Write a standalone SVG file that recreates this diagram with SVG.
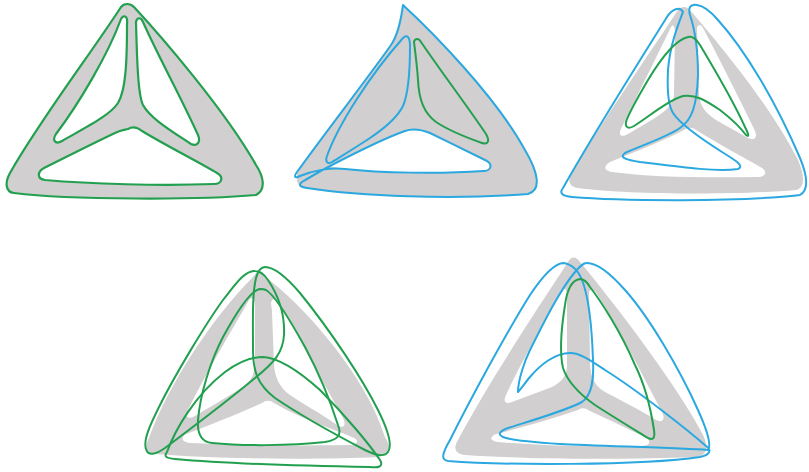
<svg xmlns="http://www.w3.org/2000/svg" width="809" height="472" viewBox="0 0 809 472">
<style>
.gray{fill:#d1cfd0}
.hole{fill:#ffffff}
.g{fill:none;stroke:#22a04f;stroke-width:2;stroke-linejoin:round}
.b{fill:none;stroke:#2aa8df;stroke-width:2;stroke-linejoin:round}
</style>
<rect width="809" height="472" fill="#ffffff"/>
<g id="panel-1">
<path class="gray" fill-rule="evenodd" style="stroke:#22a04f;stroke-width:2.2" d="M 121,7 C 124,3 130,3 134,7 C 160,35 225,110 256,165 C 264,177 266,190 256,195 C 200,200 70,200 14,193 C 5,192 5,182 10,173 C 40,120 92,52 121,7 Z M 121,19 C 124,14 128,16 127,24 C 127,60 126,90 118,103 C 110,115 90,125 62,141 C 55,145 52,140 56,134 C 78,105 108,55 121,19 Z M 136,22 C 137,17 141,17 143,22 C 160,60 180,95 198,135 C 201,142 197,147 191,144 C 170,130 150,118 143,105 C 138,95 137,60 136,22 Z M 128,129 C 133,126 137,127 142,131 C 165,145 195,160 217,173 C 224,177 222,184 214,184 C 160,186 90,184 45,180 C 37,179 37,172 44,168 C 70,155 100,140 115,133 C 121,130 124,130 128,129 Z"/>
</g>
<g id="panel-2">
<path class="gray" d="M 403,5 C 430,30 495,95 525,150 C 538,172 542,190 528,194 C 450,200 360,196 307,188 C 300,187 296,184 297,178 C 297,176 297,174 297,172 C 325,133 370,75 391,45 C 398,35 401,20 403,5 Z"/>
<path class="hole" d="M 330,166 C 355,153 385,138 405,131 C 413,128 420,129 430,133 C 450,143 475,155 487,161 C 493,165 491,171 483,171 C 440,174 380,173 345,169 C 338,168 333,167 330,166 Z"/>
<path class="hole b" d="M 403,38 C 407,34 410,37 410,46 C 410,70 409,92 403,106 C 397,118 385,128 370,138 C 355,148 340,157 332,162 C 327,165 325,161 327,156 C 338,125 370,75 403,38 Z"/>
<path class="hole g" d="M 414,42 C 415,38 419,38 421,42 C 440,70 470,110 486,134 C 490,141 488,145 482,143 C 465,137 445,128 436,122 C 424,113 419,100 418,80 C 417,65 415,50 414,42 Z"/>
<path class="b" d="M 403,5 C 430,30 495,95 525,150 C 538,172 542,190 528,194 C 450,200 360,196 307,188 C 300,187 298,185 302,182 C 312,176 322,170 330,166 C 355,153 385,138 405,131 C 413,128 420,129 430,133 C 450,143 475,155 487,161 C 493,165 491,171 483,171 C 440,174 380,173 345,169 C 330,167 312,171 300,176 C 294,179 294,176 297,172 C 325,133 370,75 391,45 C 398,35 401,20 403,5 Z"/>
</g>
<g id="panel-3">
<path class="gray" d="M 678,10 C 681,6 687,6 690,10 C 720,45 770,105 798,160 C 805,176 805,188 796,190 C 740,195 630,195 578,188 C 569,187 567,180 572,172 C 600,125 645,60 678,10 Z"/>
<path class="hole" d="M 671,27 C 673,24 675,26 675,32 L 674,95 C 673,105 665,112 650,121 L 628,134 C 621,138 618,135 621,129 C 635,100 655,60 671,27 Z"/>
<path class="hole" d="M 697,28 C 698,24 701,24 703,28 C 720,60 740,100 755,131 C 758,138 754,141 748,138 L 716,120 C 705,113 700,105 699,95 Z"/>
<path class="hole" d="M 684,130 C 688,127 692,127 696,130 C 720,145 745,158 762,168 C 768,172 765,177 758,177 C 700,178 650,177 612,172 C 604,171 603,166 610,162 C 640,150 665,140 684,130 Z"/>
<path class="b" d="M 563,188 C 590,140 640,60 667,17 C 672,9 680,6 683,12 C 678,25 670,45 668,70 C 667,90 668,105 673,113 C 680,124 700,138 722,152 C 735,160 745,166 738,169 C 715,172 680,167 640,162 C 628,160 618,158 625,153 C 640,146 665,138 680,128 C 692,120 697,105 698,75 C 698,50 695,30 690,15 C 688,8 690,4 697,5 C 705,6 712,13 718,20 C 745,50 775,100 800,158 C 807,175 809,190 800,195 C 740,202 620,201 572,197 C 562,196 559,193 563,188 Z"/>
<path class="g" d="M 688,37 C 675,40 660,60 648,80 C 638,97 628,115 626,122 C 625,128 629,129 634,126 C 650,116 668,100 683,96 C 695,94 705,100 720,110 C 733,120 743,131 746,135 C 750,138 748,133 745,127 C 735,105 715,70 700,45 C 696,39 693,36 688,37 Z"/>
</g>
<g id="panel-4">
<path class="gray" d="M 253,277 C 256,271 262,271 265,277 C 298,300 365,372 385,437 C 393,449 388,456 378,457 C 320,460 210,459 156,454 C 146,453 144,447 149,438 C 168,385 212,318 253,277 Z"/>
<path class="hole" d="M 249,300 C 252,296 255,299 255,306 L 255,362 C 255,375 250,383 240,389 C 225,398 205,410 195,416 C 188,420 185,417 188,410 C 205,375 235,325 249,300 Z"/>
<path class="hole" d="M 271,303 C 272,297 277,298 280,304 C 300,340 325,385 343,418 C 347,426 343,429 337,425 C 320,413 300,402 290,395 C 280,388 275,378 274,365 L 272,312 C 272,308 271,306 271,303 Z"/>
<path class="hole" d="M 262,403 C 266,400 270,400 274,403 C 300,418 330,428 352,437 C 360,440 358,445 350,445 C 300,446 230,445 190,443 C 182,442 180,438 186,434 C 210,425 240,413 262,403 Z"/>
<path class="g" d="M 255,271 C 245,270 235,285 223,300 C 205,325 175,375 160,405 C 150,425 143,440 146,449 C 148,456 155,455 165,448 C 185,433 225,403 255,378 C 275,362 283,352 284,335 C 285,315 278,295 268,280 C 264,274 260,271 255,271 Z"/>
<path class="g" d="M 265,267 C 275,267 288,279 300,293 C 330,330 362,378 378,410 C 388,430 393,445 388,452 C 384,458 375,455 365,450 C 340,437 300,415 275,398 C 258,385 253,372 253,350 C 253,320 252,295 256,278 C 258,271 261,267 265,267 Z"/>
<path class="g" d="M 167,452 C 175,430 195,395 225,372 C 240,361 252,357 263,357 C 280,358 300,372 320,390 C 345,415 370,445 380,460 C 384,467 378,468 370,467 C 310,466 220,463 175,459 C 165,458 164,456 167,452 Z"/>
<path class="g" d="M 260,289 C 250,290 235,315 223,337 C 210,362 200,395 198,420 C 197,435 202,442 212,443 C 240,446 290,446 325,442 C 338,440 342,435 338,425 C 330,400 320,375 305,347 C 290,320 275,295 266,290 C 264,289 262,289 260,289 Z"/>
</g>
<g id="panel-5">
<path class="gray" d="M 568,262 C 571,256 576,256 580,262 C 620,310 680,390 703,435 C 710,450 705,457 695,457 C 620,460 520,459 465,455 C 455,454 453,448 458,440 C 490,380 540,305 568,262 Z"/>
<path class="hole" d="M 562,290 C 565,287 567,290 567,296 L 567,365 C 567,375 562,382 552,387 L 512,402 C 505,405 503,401 506,395 C 520,365 545,320 562,290 Z"/>
<path class="hole" d="M 589,292 C 591,288 594,289 597,294 C 620,330 645,380 662,412 C 666,420 662,423 656,420 C 640,410 620,400 605,392 C 595,386 591,378 590,365 Z"/>
<path class="hole" d="M 578,410 C 582,407 586,408 590,411 C 610,420 630,430 645,437 C 652,441 650,446 642,446 C 600,447 540,446 498,442 C 490,441 489,437 496,434 C 520,428 555,418 578,410 Z"/>
<path class="b" d="M 563,263 C 553,264 540,280 530,295 C 505,335 470,400 450,440 C 443,452 440,460 448,461 C 500,465 640,466 700,457 C 710,455 712,450 706,446 C 690,432 640,392 605,370 C 590,360 580,353 570,353 C 555,353 540,365 530,377 C 525,383 520,390 518,392 C 518,380 525,360 530,350 C 545,320 560,290 575,272 C 580,266 583,263 587,263 C 597,263 610,273 625,290 C 650,318 680,370 698,410 C 707,430 712,445 708,450 C 680,448 600,446 560,444 C 530,442 510,440 503,437 C 497,434 500,431 508,428 C 530,421 565,411 582,402 C 592,395 594,380 593,360 C 592,330 590,300 582,280 C 578,270 572,264 563,263 Z"/>
<path class="g" d="M 580,279 C 572,280 567,290 565,305 C 561,330 560,355 563,368 C 567,380 578,393 595,405 C 615,418 635,430 648,438 C 654,441 655,437 654,430 C 651,410 645,385 635,365 C 620,330 600,300 590,287 C 587,282 584,279 580,279 Z"/>
</g>
</svg>
